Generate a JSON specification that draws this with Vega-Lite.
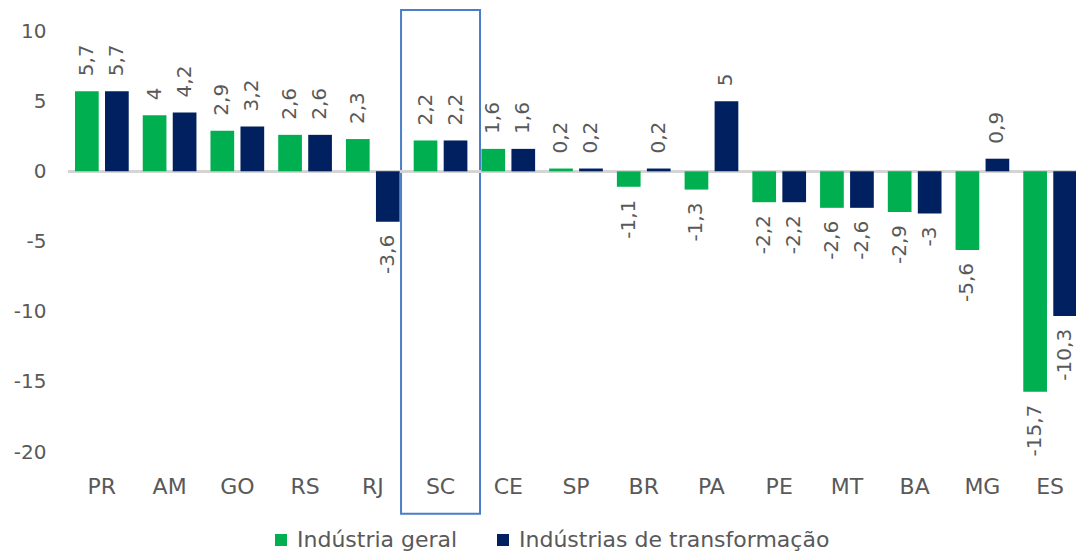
{
  "$schema": "https://vega.github.io/schema/vega-lite/v6.json",
  "width": 1008,
  "height": 421,
  "autosize": {"type": "none"},
  "padding": {"left": 68, "top": 31, "right": 0, "bottom": 102},
  "background": "white",
  "config": {
    "locale": {"number": {"decimal": ",", "thousands": ".", "grouping": [3], "currency": ["R$", ""], "minus": "-"}},
    "view": {"stroke": null},
    "font": "DejaVu Sans",
    "axis": {"labelFont": "DejaVu Sans", "labelColor": "#595959", "labelFontSize": 20, "grid": false, "domain": false, "ticks": false, "title": null},
    "legend": {"labelFont": "DejaVu Sans", "labelColor": "#595959", "labelFontSize": 22, "labelLimit": 0}
  },
  "datasets": {
    "bars": [
      {"uf": "PR", "serie": "Indústria geral", "valor": 5.7},
      {"uf": "PR", "serie": "Indústrias de transformação", "valor": 5.7},
      {"uf": "AM", "serie": "Indústria geral", "valor": 4},
      {"uf": "AM", "serie": "Indústrias de transformação", "valor": 4.2},
      {"uf": "GO", "serie": "Indústria geral", "valor": 2.9},
      {"uf": "GO", "serie": "Indústrias de transformação", "valor": 3.2},
      {"uf": "RS", "serie": "Indústria geral", "valor": 2.6},
      {"uf": "RS", "serie": "Indústrias de transformação", "valor": 2.6},
      {"uf": "RJ", "serie": "Indústria geral", "valor": 2.3},
      {"uf": "RJ", "serie": "Indústrias de transformação", "valor": -3.6},
      {"uf": "SC", "serie": "Indústria geral", "valor": 2.2},
      {"uf": "SC", "serie": "Indústrias de transformação", "valor": 2.2},
      {"uf": "CE", "serie": "Indústria geral", "valor": 1.6},
      {"uf": "CE", "serie": "Indústrias de transformação", "valor": 1.6},
      {"uf": "SP", "serie": "Indústria geral", "valor": 0.2},
      {"uf": "SP", "serie": "Indústrias de transformação", "valor": 0.2},
      {"uf": "BR", "serie": "Indústria geral", "valor": -1.1},
      {"uf": "BR", "serie": "Indústrias de transformação", "valor": 0.2},
      {"uf": "PA", "serie": "Indústria geral", "valor": -1.3},
      {"uf": "PA", "serie": "Indústrias de transformação", "valor": 5},
      {"uf": "PE", "serie": "Indústria geral", "valor": -2.2},
      {"uf": "PE", "serie": "Indústrias de transformação", "valor": -2.2},
      {"uf": "MT", "serie": "Indústria geral", "valor": -2.6},
      {"uf": "MT", "serie": "Indústrias de transformação", "valor": -2.6},
      {"uf": "BA", "serie": "Indústria geral", "valor": -2.9},
      {"uf": "BA", "serie": "Indústrias de transformação", "valor": -3},
      {"uf": "MG", "serie": "Indústria geral", "valor": -5.6},
      {"uf": "MG", "serie": "Indústrias de transformação", "valor": 0.9},
      {"uf": "ES", "serie": "Indústria geral", "valor": -15.7},
      {"uf": "ES", "serie": "Indústrias de transformação", "valor": -10.3}
    ],
    "destaque": [{"uf": "SC", "topo": 11.5, "base": -24.4}]
  },
  "layer": [
    {
      "data": {"name": "destaque"},
      "mark": {"type": "bar", "filled": false, "stroke": "#4A7EC8", "strokeWidth": 2, "width": {"band": 1.47}},
      "encoding": {
        "x": {"field": "uf", "type": "nominal", "scale": {"domain": ["PR","AM","GO","RS","RJ","SC","CE","SP","BR","PA","PE","MT","BA","MG","ES"], "range": [0, 1016], "paddingInner": 0.207, "paddingOuter": 0.1035}, "axis": {"labelAngle": 0, "labelPadding": 24, "labelFontSize": 22, "orient": "bottom"}},
        "y": {"field": "topo", "type": "quantitative", "scale": {"domain": [-20, 10], "nice": false}, "axis": {"values": [-20,-15,-10,-5,0,5,10], "labelPadding": 22}},
        "y2": {"field": "base"}
      }
    },
    {
      "data": {"name": "bars"},
      "mark": {"type": "rule", "color": "#D4D4D4", "strokeWidth": 2},
      "encoding": {"y": {"datum": 0, "type": "quantitative"}}
    },
    {
      "data": {"name": "bars"},
      "mark": {"type": "bar"},
      "encoding": {
        "x": {"field": "uf", "type": "nominal"},
        "xOffset": {"field": "serie", "type": "nominal", "scale": {"paddingInner": 0.21, "paddingOuter": 0}},
        "y": {"field": "valor", "type": "quantitative"},
        "color": {"field": "serie", "type": "nominal", "scale": {"domain": ["Indústria geral", "Indústrias de transformação"], "range": ["#00B050", "#002060"]},
          "legend": {"orient": "none", "legendX": 202, "legendY": 498, "direction": "horizontal", "title": null, "symbolType": "square", "symbolSize": 144, "symbolStrokeWidth": 0, "labelOffset": 5, "columnPadding": 34}}
      }
    },
    {
      "data": {"name": "bars"},
      "transform": [{"filter": "datum.valor >= 0"}],
      "mark": {"type": "text", "angle": 270, "align": "left", "baseline": "middle", "dx": 15, "fontSize": 20, "color": "#595959"},
      "encoding": {
        "x": {"field": "uf", "type": "nominal"},
        "xOffset": {"field": "serie", "type": "nominal"},
        "y": {"field": "valor", "type": "quantitative"},
        "text": {"field": "valor", "type": "quantitative", "format": ".1~f"}
      }
    },
    {
      "data": {"name": "bars"},
      "transform": [{"filter": "datum.valor < 0"}],
      "mark": {"type": "text", "angle": 270, "align": "right", "baseline": "middle", "dx": -13, "fontSize": 20, "color": "#595959"},
      "encoding": {
        "x": {"field": "uf", "type": "nominal"},
        "xOffset": {"field": "serie", "type": "nominal"},
        "y": {"field": "valor", "type": "quantitative"},
        "text": {"field": "valor", "type": "quantitative", "format": ".1~f"}
      }
    }
  ]
}
